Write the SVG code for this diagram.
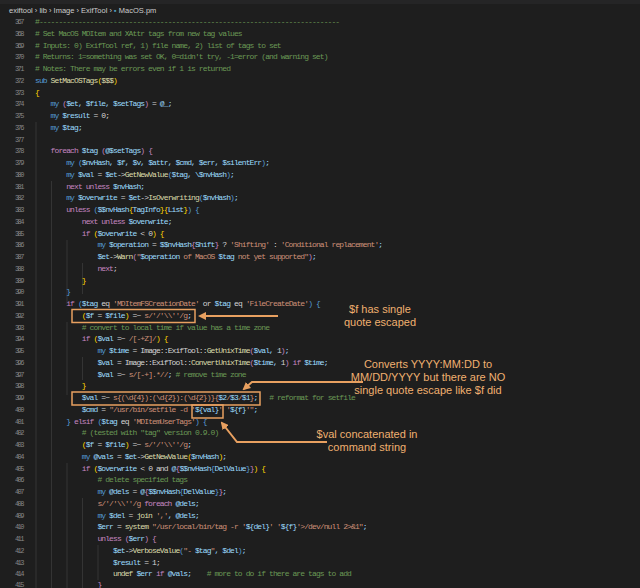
<svg xmlns="http://www.w3.org/2000/svg" width="640" height="588" viewBox="0 0 640 588">
<style>
.c{font-family:"Liberation Mono",monospace;font-size:8px;letter-spacing:-0.9px;fill:#9cdcfe;white-space:pre}
.n{font-family:"Liberation Mono",monospace;font-size:7px;letter-spacing:-1.5px;fill:#858585;text-anchor:end}
.cm{fill:#6a9955}.k{fill:#c586c0}.b{fill:#569cd6}.s{fill:#ce9178}.f{fill:#dcdcaa}.p{fill:#d4d4d4}.y{fill:#ffd700}
.a{font-family:"Liberation Sans",Arial,sans-serif;font-size:11px;fill:#f0b070;text-anchor:middle}
.box{fill:none;stroke:#e8a060;stroke-width:1.5}
.ar{fill:none;stroke:#e8a060;stroke-width:2}
.g{stroke:#3a3a3a;stroke-width:0.8}
</style>
<defs><marker id="m" markerWidth="8" markerHeight="8" refX="6" refY="4" orient="auto" markerUnits="userSpaceOnUse"><path d="M0,0L8,4L0,8z" fill="#e8a060"/></marker></defs>
<rect width="640" height="588" fill="#1e1e1e"/>
<rect width="640" height="4" fill="#252526"/>
<text x="9" y="13" font-family="Liberation Sans,Arial,sans-serif" font-size="7.5" fill="#cccccc">exiftool › lib › Image › ExifTool › <tspan fill="#519aba">▪</tspan> MacOS.pm</text>
<g id="guides">
<line class="g" x1="36" y1="122" x2="36" y2="588"/>
<line class="g" x1="51.5" y1="181" x2="51.5" y2="588"/>
<line class="g" x1="67" y1="240" x2="67" y2="304"/>
<line class="g" x1="67" y1="322" x2="67" y2="395"/>
<line class="g" x1="67" y1="463" x2="67" y2="588"/>
<line class="g" x1="82.5" y1="263" x2="82.5" y2="294"/>
<line class="g" x1="82.5" y1="357" x2="82.5" y2="380"/>
<line class="g" x1="82.5" y1="498" x2="82.5" y2="588"/>
<line class="g" x1="98" y1="545" x2="98" y2="580"/>
</g>
<g id="linenumbers">
<text class="n" x="23" y="24">367</text><text class="n" x="23" y="35.75">368</text><text class="n" x="23" y="47.5">369</text><text class="n" x="23" y="59.25">370</text><text class="n" x="23" y="71">371</text><text class="n" x="23" y="82.75">372</text><text class="n" x="23" y="94.5">373</text><text class="n" x="23" y="106.25">374</text><text class="n" x="23" y="118">375</text><text class="n" x="23" y="129.75">376</text><text class="n" x="23" y="141.5">377</text><text class="n" x="23" y="153.25">378</text><text class="n" x="23" y="165">379</text><text class="n" x="23" y="176.75">380</text><text class="n" x="23" y="188.5">381</text><text class="n" x="23" y="200.25">382</text><text class="n" x="23" y="212">383</text><text class="n" x="23" y="223.75">384</text><text class="n" x="23" y="235.5">385</text><text class="n" x="23" y="247.25">386</text><text class="n" x="23" y="259">387</text><text class="n" x="23" y="270.75">388</text><text class="n" x="23" y="282.5">389</text><text class="n" x="23" y="294.25">390</text><text class="n" x="23" y="306">391</text><text class="n" x="23" y="317.75">392</text><text class="n" x="23" y="329.5">393</text><text class="n" x="23" y="341.25">394</text><text class="n" x="23" y="353">395</text><text class="n" x="23" y="364.75">396</text><text class="n" x="23" y="376.5">397</text><text class="n" x="23" y="388.25">398</text><text class="n" x="23" y="400" fill="#e0e0e0">399</text><text class="n" x="23" y="411.75">400</text><text class="n" x="23" y="423.5">401</text><text class="n" x="23" y="435.25">402</text><text class="n" x="23" y="447">403</text><text class="n" x="23" y="458.75">404</text><text class="n" x="23" y="470.5">405</text><text class="n" x="23" y="482.25">406</text><text class="n" x="23" y="494">407</text><text class="n" x="23" y="505.75">408</text><text class="n" x="23" y="517.5">409</text><text class="n" x="23" y="529.25">410</text><text class="n" x="23" y="541">411</text><text class="n" x="23" y="552.75">412</text><text class="n" x="23" y="564.5">413</text><text class="n" x="23" y="576.25">414</text><text class="n" x="23" y="587">415</text>
</g>
<g id="code">
<text class="c cm" x="35" y="24">#-----------------------------------------------------------------------------</text>
<text class="c cm" x="35" y="35.75"># Set MacOS MDItem and XAttr tags from new tag values</text>
<text class="c cm" x="35" y="47.5"># Inputs: 0) ExifTool ref, 1) file name, 2) list of tags to set</text>
<text class="c cm" x="35" y="59.25"># Returns: 1=something was set OK, 0=didn't try, -1=error (and warning set)</text>
<text class="c cm" x="35" y="71"># Notes: There may be errors even if 1 is returned</text>
<text class="c" x="35" y="82.75"><tspan class="b">sub</tspan> <tspan class="f">SetMacOSTags</tspan><tspan class="y">(</tspan><tspan class="f">$$$</tspan><tspan class="y">)</tspan></text>
<text class="c y" x="35" y="94.5">{</text>
<text class="c" x="50.6" y="106.25"><tspan class="b">my</tspan> <tspan class="k">(</tspan>$et, $file, $setTags<tspan class="k">)</tspan> <tspan class="p">=</tspan> @_;</text>
<text class="c" x="50.6" y="118"><tspan class="b">my</tspan> $result <tspan class="p">= 0;</tspan></text>
<text class="c" x="50.6" y="129.75"><tspan class="b">my</tspan> $tag;</text>
<text class="c" x="50.6" y="153.25"><tspan class="k">foreach</tspan> $tag <tspan class="k">(</tspan>@$setTags<tspan class="k">)</tspan> <tspan class="k">{</tspan></text>
<text class="c" x="66.2" y="165"><tspan class="b">my</tspan> <tspan class="b">(</tspan>$nvHash, $f, $v, $attr, $cmd, $err, $silentErr<tspan class="b">)</tspan>;</text>
<text class="c" x="66.2" y="176.75"><tspan class="b">my</tspan> $val <tspan class="p">=</tspan> $et<tspan class="p">-&gt;</tspan><tspan class="f">GetNewValue</tspan><tspan class="b">(</tspan>$tag, \$nvHash<tspan class="b">)</tspan>;</text>
<text class="c" x="66.2" y="188.5"><tspan class="k">next unless</tspan> $nvHash;</text>
<text class="c" x="66.2" y="200.25"><tspan class="b">my</tspan> $overwrite <tspan class="p">=</tspan> $et<tspan class="p">-&gt;</tspan><tspan class="f">IsOverwriting</tspan><tspan class="b">(</tspan>$nvHash<tspan class="b">)</tspan>;</text>
<text class="c" x="66.2" y="212"><tspan class="k">unless</tspan> <tspan class="b">(</tspan>$$nvHash<tspan class="y">{</tspan>TagInfo<tspan class="y">}{</tspan>List<tspan class="y">}</tspan><tspan class="b">)</tspan> <tspan class="b">{</tspan></text>
<text class="c" x="81.8" y="223.75"><tspan class="k">next unless</tspan> $overwrite;</text>
<text class="c" x="81.8" y="235.5"><tspan class="k">if</tspan> <tspan class="y">(</tspan>$overwrite <tspan class="p">&lt; 0</tspan><tspan class="y">)</tspan> <tspan class="y">{</tspan></text>
<text class="c" x="97.4" y="247.25"><tspan class="b">my</tspan> $operation <tspan class="p">=</tspan> $$nvHash<tspan class="k">{</tspan>Shift<tspan class="k">}</tspan> <tspan class="p">?</tspan> <tspan class="s">'Shifting'</tspan> <tspan class="p">:</tspan> <tspan class="s">'Conditional replacement'</tspan>;</text>
<text class="c" x="97.4" y="259">$et<tspan class="p">-&gt;</tspan><tspan class="f">Warn</tspan><tspan class="k">(</tspan><tspan class="s">"</tspan>$operation<tspan class="s"> of MacOS </tspan>$tag<tspan class="s"> not yet supported"</tspan><tspan class="k">)</tspan>;</text>
<text class="c k" x="97.4" y="270.75">next<tspan class="p">;</tspan></text>
<text class="c y" x="81.8" y="282.5">}</text>
<text class="c b" x="66.2" y="294.25">}</text>
<text class="c" x="66.2" y="306"><tspan class="k">if</tspan> <tspan class="b">(</tspan>$tag <tspan class="p">eq</tspan> <tspan class="s">'MDItemFSCreationDate'</tspan> <tspan class="p">or</tspan> $tag <tspan class="p">eq</tspan> <tspan class="s">'FileCreateDate'</tspan><tspan class="b">)</tspan> <tspan class="b">{</tspan></text>
<text class="c" x="81.8" y="317.75"><tspan class="y">(</tspan>$f <tspan class="p">=</tspan> $file<tspan class="y">)</tspan> <tspan class="p">=~</tspan> <tspan class="s">s/'/'\\''/g</tspan>;</text>
<text class="c cm" x="81.8" y="329.5"># convert to local time if value has a time zone</text>
<text class="c" x="81.8" y="341.25"><tspan class="k">if</tspan> <tspan class="y">(</tspan>$val <tspan class="p">=~</tspan> <tspan class="s">/[-+Z]/</tspan><tspan class="y">)</tspan> <tspan class="y">{</tspan></text>
<text class="c" x="97.4" y="353"><tspan class="b">my</tspan> $time <tspan class="p">=</tspan> <tspan class="p">Image::ExifTool::</tspan><tspan class="f">GetUnixTime</tspan><tspan class="k">(</tspan>$val, <tspan class="p">1</tspan><tspan class="k">)</tspan>;</text>
<text class="c" x="97.4" y="364.75">$val <tspan class="p">=</tspan> <tspan class="p">Image::ExifTool::</tspan><tspan class="f">ConvertUnixTime</tspan><tspan class="k">(</tspan>$time, <tspan class="p">1</tspan><tspan class="k">)</tspan> <tspan class="k">if</tspan> $time;</text>
<text class="c" x="97.4" y="376.5">$val <tspan class="p">=~</tspan> <tspan class="s">s/[-+].*//</tspan>; <tspan class="cm"># remove time zone</tspan></text>
<text class="c y" x="81.8" y="388.25">}</text>
<text class="c" x="81.8" y="400">$val <tspan class="p">=~</tspan> <tspan class="s">s{(\d{4}):(\d{2}):(\d{2})}{</tspan>$2<tspan class="s">/</tspan>$3<tspan class="s">/</tspan>$1<tspan class="s">}</tspan>;   <tspan class="cm"># reformat for setfile</tspan></text>
<text class="c" x="81.8" y="411.75">$cmd <tspan class="p">=</tspan> <tspan class="s">"/usr/bin/setfile -d '</tspan>${val}<tspan class="s">' '</tspan>${f}<tspan class="s">'"</tspan>;</text>
<text class="c" x="66.2" y="423.5"><tspan class="b">}</tspan> <tspan class="k">elsif</tspan> <tspan class="b">(</tspan>$tag <tspan class="p">eq</tspan> <tspan class="s">'MDItemUserTags'</tspan><tspan class="b">)</tspan> <tspan class="b">{</tspan></text>
<text class="c cm" x="81.8" y="435.25"># (tested with "tag" version 0.9.0)</text>
<text class="c" x="81.8" y="447"><tspan class="y">(</tspan>$f <tspan class="p">=</tspan> $file<tspan class="y">)</tspan> <tspan class="p">=~</tspan> <tspan class="s">s/'/'\\''/g</tspan>;</text>
<text class="c" x="81.8" y="458.75"><tspan class="b">my</tspan> @vals <tspan class="p">=</tspan> $et<tspan class="p">-&gt;</tspan><tspan class="f">GetNewValue</tspan><tspan class="y">(</tspan>$nvHash<tspan class="y">)</tspan>;</text>
<text class="c" x="81.8" y="470.5"><tspan class="k">if</tspan> <tspan class="y">(</tspan>$overwrite <tspan class="p">&lt; 0 and</tspan> @<tspan class="k">{</tspan>$$nvHash<tspan class="b">{</tspan>DelValue<tspan class="b">}</tspan><tspan class="k">}</tspan><tspan class="y">)</tspan> <tspan class="y">{</tspan></text>
<text class="c cm" x="97.4" y="482.25"># delete specified tags</text>
<text class="c" x="97.4" y="494"><tspan class="b">my</tspan> @dels <tspan class="p">=</tspan> @<tspan class="k">{</tspan>$$nvHash<tspan class="b">{</tspan>DelValue<tspan class="b">}</tspan><tspan class="k">}</tspan>;</text>
<text class="c" x="97.4" y="505.75"><tspan class="s">s/'/'\\''/g</tspan> <tspan class="k">foreach</tspan> @dels;</text>
<text class="c" x="97.4" y="517.5"><tspan class="b">my</tspan> $del <tspan class="p">=</tspan> <tspan class="f">join</tspan> <tspan class="s">','</tspan>, @dels;</text>
<text class="c" x="97.4" y="529.25">$err <tspan class="p">=</tspan> <tspan class="f">system</tspan> <tspan class="s">"/usr/local/bin/tag -r '</tspan>${del}<tspan class="s">' '</tspan>${f}<tspan class="s">'&gt;/dev/null 2&gt;&amp;1"</tspan>;</text>
<text class="c" x="97.4" y="541"><tspan class="k">unless</tspan> <tspan class="k">(</tspan>$err<tspan class="k">)</tspan> <tspan class="k">{</tspan></text>
<text class="c" x="113" y="552.75">$et<tspan class="p">-&gt;</tspan><tspan class="f">VerboseValue</tspan><tspan class="b">(</tspan><tspan class="s">"- </tspan>$tag<tspan class="s">"</tspan>, $del<tspan class="b">)</tspan>;</text>
<text class="c" x="113" y="564.5">$result <tspan class="p">= 1;</tspan></text>
<text class="c" x="113" y="576.25"><tspan class="f">undef</tspan> $err <tspan class="k">if</tspan> @vals;    <tspan class="cm"># more to do if there are tags to add</tspan></text>
<text class="c k" x="97.4" y="587">}</text>
</g>
<g id="connectors">
<rect class="box" x="72" y="309.5" width="123" height="13"/>
<line class="ar" x1="278" y1="316" x2="200" y2="316" marker-end="url(#m)"/>
<rect class="box" x="72" y="392" width="188" height="13"/>
<polyline class="ar" points="363,382 252,382 244,389" marker-end="url(#m)"/>
<rect class="box" x="192" y="405" width="31" height="13"/>
<polyline class="ar" points="327,442 237,442 222,423" marker-end="url(#m)"/>
</g>
<g id="annotations">
<text class="a" x="380" y="313">$f has single</text>
<text class="a" x="380" y="326">quote escaped</text>
<text class="a" x="428" y="368">Converts YYYY:MM:DD to</text>
<text class="a" x="428" y="381">MM/DD/YYYY but there are NO</text>
<text class="a" x="428" y="394">single quote escape like $f did</text>
<text class="a" x="367" y="438">$val concatenated in</text>
<text class="a" x="367" y="451">command string</text>
</g>
</svg>
